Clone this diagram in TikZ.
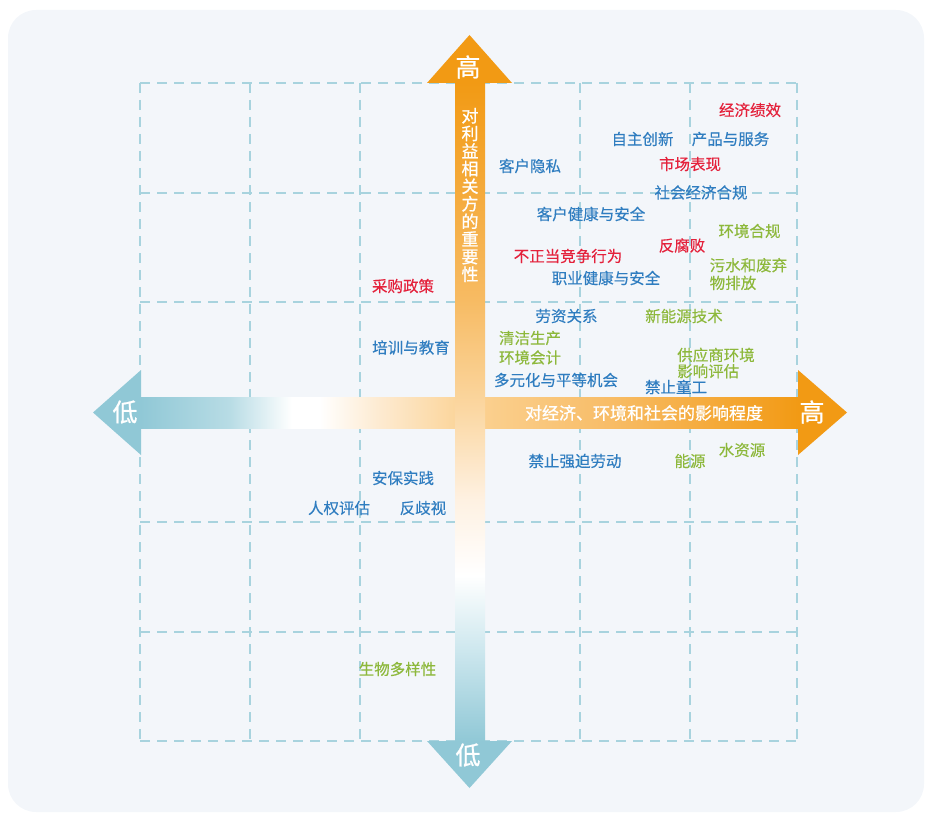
\documentclass[tikz,border=0pt]{standalone}
\usepackage{fontspec}
\setmainfont{Noto Sans CJK SC}
\newfontfamily\lblfont[FakeBold=0.3]{Noto Sans CJK SC}
\newfontfamily\axfont[FakeBold=0.9]{Noto Sans CJK SC}
\definecolor{bgc}{HTML}{F3F6FA}
\definecolor{gridc}{HTML}{A8D3DE}
\definecolor{orA}{HTML}{F29A14}
\definecolor{blA}{HTML}{90C8D6}
\definecolor{hbtwo}{HTML}{B8DCE5}
\definecolor{hoone}{HTML}{FDEAD0}
\definecolor{hotwo}{HTML}{FBD293}
\definecolor{hothree}{HTML}{F8BE6A}
\definecolor{vbtwo}{HTML}{CDE7EE}
\definecolor{voone}{HTML}{FEF1E2}
\definecolor{votwo}{HTML}{FBD8A4}
\definecolor{vothree}{HTML}{F7BB63}
\definecolor{tblue}{HTML}{2F7DC0}
\definecolor{tred}{HTML}{E4213B}
\definecolor{tgreen}{HTML}{8DB83B}
\pgfdeclarehorizontalshading{hshaft}{100bp}{color(0bp)=(blA); color(25bp)=(blA); color(31.8bp)=(hbtwo); color(36.5bp)=(white); color(38.6bp)=(white); color(43.2bp)=(hoone); color(50bp)=(hotwo); color(60bp)=(hothree); color(75bp)=(orA); color(100bp)=(orA)}
\pgfdeclareverticalshading{vshaft}{100bp}{color(0bp)=(blA); color(25bp)=(blA); color(31.9bp)=(vbtwo); color(37.6bp)=(white); color(43.3bp)=(voone); color(50bp)=(votwo); color(58.5bp)=(vothree); color(75bp)=(orA); color(100bp)=(orA)}
\tikzset{
  gridline/.style={gridc, line width=1.5pt, dash pattern=on 10pt off 7pt},
  lbl/.style={inner sep=0pt, font=\lblfont\fontsize{15.5}{17}\selectfont},
  lblue/.style={lbl, text=tblue},
  lred/.style={lbl, text=tred},
  lgreen/.style={lbl, text=tgreen},
  axbig/.style={inner sep=0pt, text=white, font=\axfont\fontsize{25}{25}\selectfont},
  axtxt/.style={inner sep=0pt, text=white, font=\axfont\fontsize{17}{17.6}\selectfont}
}
\begin{document}
\begin{tikzpicture}[x=1pt,y=-1pt]
\useasboundingbox (0,0) rectangle (925,813);
\fill[bgc, rounded corners=28pt] (8,10) rectangle (924,812);
% grid
\foreach \x in {140,250,360,470,580,690,797} \draw[gridline] (\x,83) -- (\x,741);
\foreach \y in {83,193,302,412,522,632,741} \draw[gridline] (140,\y) -- (797,\y);
% shafts
\shade[shading=hshaft] (140.5,397) rectangle (798.5,428);
\shade[shading=vshaft] (455,82.5) rectangle (485,741.5);
% heads
\fill[orA] (427,83) -- (469.5,35) -- (512,83) -- cycle;
\fill[blA] (427,741) -- (469.5,788) -- (512,741) -- cycle;
\fill[blA] (141,370) -- (93,412.5) -- (141,455) -- cycle;
\fill[orA] (798,370) -- (847,412.5) -- (798,455) -- cycle;
% axis texts
\node[axbig] (yhigh) at (468,67) {高};
\node[axbig] (ylow) at (468,755) {低};
\node[axbig] (xlow) at (125,412) {低};
\node[axbig] (xhigh) at (812,412) {高};
\node[axtxt, align=center] (ytitle) at (470,195) {对\\利\\益\\相\\关\\方\\的\\重\\要\\性};
\node[axtxt] (xtitle) at (644,413) {对经济、环境和社会的影响程度};
% labels
\node[lred] (n1) at (750,110) {经济绩效};
\node[lblue] (n2) at (642.5,139) {自主创新};
\node[lblue] (n3) at (730.5,139) {产品与服务};
\node[lblue] (n4) at (530,166) {客户隐私};
\node[lred] (n5) at (690,164) {市场表现};
\node[lblue] (n6) at (701,192.5) {社会经济合规};
\node[lblue] (n7) at (591,214) {客户健康与安全};
\node[lgreen] (n8) at (749.5,231) {环境合规};
\node[lred] (n9) at (682,245.5) {反腐败};
\node[lred] (n10) at (568,256) {不正当竞争行为};
\node[lgreen, anchor=west, align=left, font=\lblfont\fontsize{15.5}{17.7}\selectfont] (n11) at (709.5,274) {污水和废弃\\物排放};
\node[lblue] (n12) at (606,278) {职业健康与安全};
\node[lred] (n13) at (403,286) {采购政策};
\node[lblue] (n14) at (566.5,316) {劳资关系};
\node[lgreen] (n15) at (684,316) {新能源技术};
\node[lblue] (n16) at (411,347.5) {培训与教育};
\node[lgreen] (n17) at (530,338) {清洁生产};
\node[lgreen] (n18) at (530,357.5) {环境会计};
\node[lgreen, anchor=west, align=left, font=\lblfont\fontsize{15.5}{16.2}\selectfont] (n19) at (677,363) {供应商环境\\影响评估};
\node[lblue] (n20) at (556,380) {多元化与平等机会};
\node[lblue] (n21) at (676,387) {禁止童工};
\node[lblue] (n22) at (575,461) {禁止强迫劳动};
\node[lgreen] (n23) at (690,461) {能源};
\node[lgreen] (n24) at (742,450) {水资源};
\node[lblue] (n25) at (403,478) {安保实践};
\node[lblue] (n26) at (339,508) {人权评估};
\node[lblue] (n27) at (423,508) {反歧视};
\node[lgreen] (n28) at (397.5,669) {生物多样性};
\end{tikzpicture}
\end{document}
